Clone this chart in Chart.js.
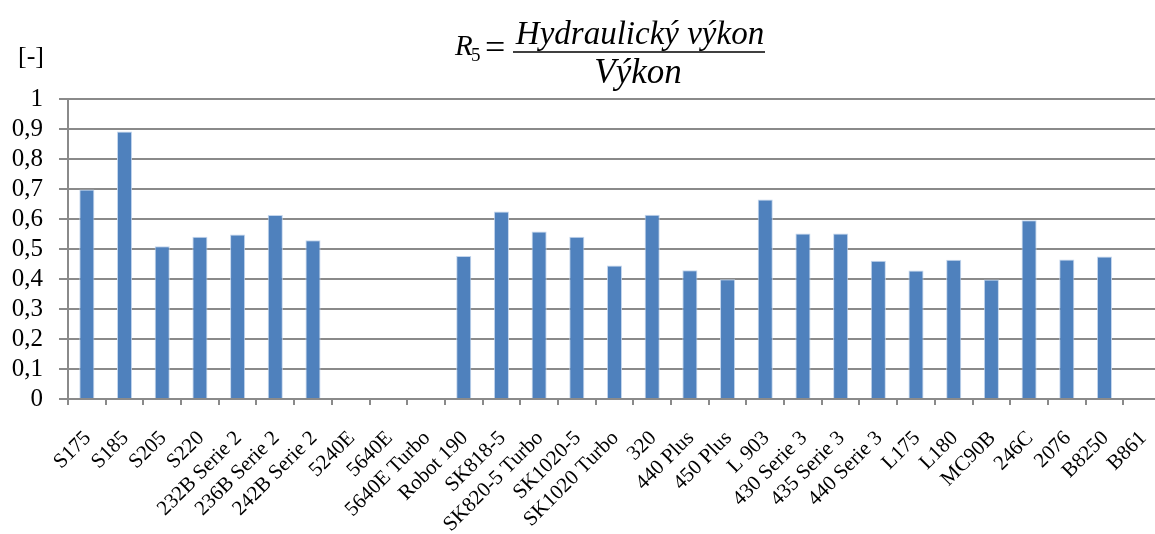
<!DOCTYPE html>
<html>
<head>
<meta charset="utf-8">
<script src="https://cdn.jsdelivr.net/npm/chart.js@4.4.1/dist/chart.umd.min.js"></script>
<style>
  html, body { margin: 0; padding: 0; background: #fff; overflow: hidden; }
  #wrap { width: 1170px; height: 534px; position: relative; }
</style>
</head>
<body>
<div id="wrap"><canvas id="c"></canvas></div>
<script>
const categories = ['S175','S185','S205','S220','232B Serie 2','236B Serie 2','242B Serie 2','5240E','5640E','5640E Turbo','Robot 190','SK818-5','SK820-5 Turbo','SK1020-5','SK1020 Turbo','320','440 Plus','450 Plus','L 903','430 Serie 3','435 Serie 3','440 Serie 3','L175','L180','MC90B','246C','2076','B8250','B861'];
const r5Values = [0.698,0.892,0.509,0.541,0.548,0.613,0.529,null,null,null,0.477,0.625,0.558,0.541,0.445,0.614,0.429,0.399,0.665,0.552,0.552,0.461,0.428,0.464,0.398,0.596,0.465,0.475,null];
const yTicks = [0,0.1,0.2,0.3,0.4,0.5,0.6,0.7,0.8,0.9,1];
const yUnit = '[-]';
const titleNumerator = 'Hydraulický výkon';
const titleDenominator = 'Výkon';

const SERIF = '"Liberation Serif", "Times New Roman", serif';
const GRID = '#8a8a8a';

const titlePlugin = {
  id: 'formulaTitle',
  afterDraw(chart) {
    const ctx = chart.ctx;
    ctx.save();
    ctx.fillStyle = '#000';
    ctx.textBaseline = 'alphabetic';
    ctx.textAlign = 'left';
    ctx.font = '26px ' + SERIF;
    ctx.fillText(yUnit, 18, 64);
    ctx.font = 'italic 29px ' + SERIF;
    ctx.fillText('R', 455, 55);
    ctx.font = '19px ' + SERIF;
    ctx.fillText('5', 471, 61);
    ctx.font = '36px ' + SERIF;
    ctx.fillText('=', 485, 59);
    ctx.strokeStyle = '#000';
    ctx.lineWidth = 1.5;
    ctx.beginPath();
    ctx.moveTo(513, 52);
    ctx.lineTo(765, 52);
    ctx.stroke();
    ctx.textAlign = 'center';
    ctx.font = 'italic 33px ' + SERIF;
    ctx.fillText(titleNumerator, 640, 44);
    ctx.font = 'italic 35px ' + SERIF;
    ctx.fillText(titleDenominator, 638, 83);
    ctx.restore();
  }
};

new Chart(document.getElementById('c'), {
  type: 'bar',
  data: {
    labels: categories,
    datasets: [{
      data: r5Values,
      backgroundColor: '#4F81BD',
      borderColor: 'rgba(190,210,235,0.9)',
      borderWidth: { top: 1, left: 1, right: 1, bottom: 0 },
      barPercentage: 0.4,
      categoryPercentage: 1.0
    }]
  },
  options: {
    responsive: true,
    maintainAspectRatio: false,
    animation: false,
    layout: { padding: { top: 99, right: 9, bottom: 0, left: 0 } },
    plugins: { legend: { display: false }, tooltip: { enabled: false }, title: { display: false } },
    scales: {
      x: {
        offset: true,
        grid: { display: true, drawOnChartArea: false, drawTicks: true, tickLength: 6, color: GRID, lineWidth: 2, offset: true },
        border: { display: true, color: GRID, width: 2 },
        ticks: {
          autoSkip: false, minRotation: 45, maxRotation: 45, padding: 21, labelOffset: 1,
          color: '#000', font: { family: SERIF, size: 21 }
        },
        afterFit(scale) { scale.height = 135; scale.paddingLeft = 0; scale.paddingRight = 0; }
      },
      y: {
        min: 0, max: 1,
        afterBuildTicks(scale) { scale.ticks = yTicks.map(v => ({ value: v })); },
        grid: { color: GRID, lineWidth: 2, drawTicks: true, tickLength: 9 },
        border: { display: true, color: GRID, width: 2 },
        ticks: {
          autoSkip: false, padding: 16, color: '#000', font: { family: SERIF, size: 25 },
          callback: (v) => String(Math.round(v * 10) / 10).replace('.', ',')
        },
        afterFit(scale) { scale.width = 68; scale.paddingTop = 0; scale.paddingBottom = 0; }
      }
    }
  },
  plugins: [titlePlugin]
});
</script>
</body>
</html>
